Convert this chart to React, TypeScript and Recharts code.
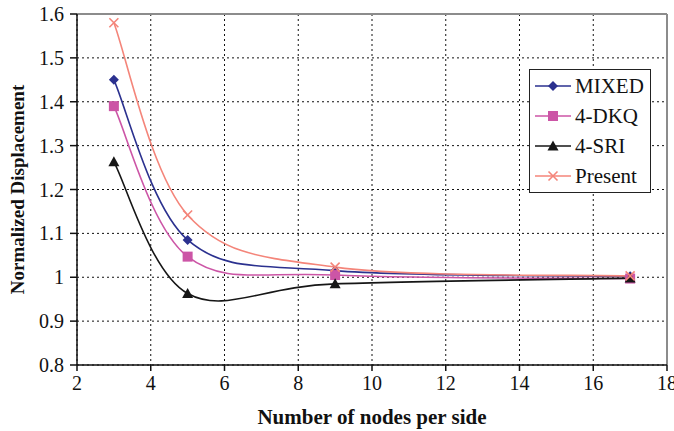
import {
  LineChart,
  Line,
  XAxis,
  YAxis,
  CartesianGrid,
  ReferenceLine,
} from 'recharts'

const nodes = [3, 5, 9, 17]
const mixed = [1.45, 1.085, 1.015, 1.002]
const dkq = [1.39, 1.047, 1.005, 0.997]
const sri = [1.263, 0.963, 0.985, 0.998]
const present = [1.58, 1.142, 1.023, 1.003]

const xTicks = [2, 4, 6, 8, 10, 12, 14, 16, 18]
const yTicks = [0.8, 0.9, 1.0, 1.1, 1.2, 1.3, 1.4, 1.5, 1.6]

const FONT = '"Liberation Serif", "Times New Roman", serif'

const series = [
  { key: 'mixed', name: 'MIXED', color: '#2b318f', marker: 'diamond' },
  { key: 'dkq', name: '4-DKQ', color: '#cc55a6', marker: 'square' },
  { key: 'sri', name: '4-SRI', color: '#161616', marker: 'triangle' },
  { key: 'present', name: 'Present', color: '#f4857a', marker: 'cross' },
]

const data = nodes.map((n, i) => ({
  n,
  mixed: mixed[i],
  dkq: dkq[i],
  sri: sri[i],
  present: present[i],
}))

// Excel style smoothing (Catmull-Rom through the points)
const excelSmooth = (context: any) => {
  let pts: number[][] = []
  return {
    areaStart() {},
    areaEnd() {},
    lineStart() {
      pts = []
    },
    point(x: number, y: number) {
      pts.push([+x, +y])
    },
    lineEnd() {
      if (!pts.length) return
      context.moveTo(pts[0][0], pts[0][1])
      for (let i = 0; i < pts.length - 1; i++) {
        const p0 = pts[i - 1] || pts[i]
        const p1 = pts[i]
        const p2 = pts[i + 1]
        const p3 = pts[i + 2] || pts[i + 1]
        context.bezierCurveTo(
          p1[0] + (p2[0] - p0[0]) / 6,
          p1[1] + (p2[1] - p0[1]) / 6,
          p2[0] - (p3[0] - p1[0]) / 6,
          p2[1] - (p3[1] - p1[1]) / 6,
          p2[0],
          p2[1]
        )
      }
    },
  }
}

function Marker({ cx, cy, color, marker }: any) {
  if (cx == null || cy == null) return null
  if (marker === 'diamond') {
    const r = 5
    return <polygon points={`${cx},${cy - r} ${cx + r},${cy} ${cx},${cy + r} ${cx - r},${cy}`} fill={color} />
  }
  if (marker === 'square') {
    const r = 5
    return <rect x={cx - r} y={cy - r} width={r * 2} height={r * 2} fill={color} />
  }
  if (marker === 'triangle') {
    const r = 5.5
    return <polygon points={`${cx},${cy - r} ${cx + r},${cy + r * 0.8} ${cx - r},${cy + r * 0.8}`} fill={color} />
  }
  const r = 4.5
  return (
    <g stroke={color} strokeWidth={1.6}>
      <line x1={cx - r} y1={cy - r} x2={cx + r} y2={cy + r} />
      <line x1={cx - r} y1={cy + r} x2={cx + r} y2={cy - r} />
    </g>
  )
}

function LegendBox() {
  return (
    <div
      style={{
        position: 'absolute',
        left: 529,
        top: 69,
        border: '1.5px solid #222',
        background: '#fff',
        padding: '1px 4px 0 5px',
        fontFamily: FONT,
        fontSize: 21,
        color: '#111',
        width: 122,
        height: 124,
        boxSizing: 'border-box',
        whiteSpace: 'nowrap',
      }}
    >
      {series.map((s) => (
        <div key={s.key} style={{ display: 'flex', alignItems: 'center', height: 30 }}>
          <svg width={36} height={14} style={{ marginRight: 4 }}>
            <line x1={0} y1={7} x2={36} y2={7} stroke={s.color} strokeWidth={1.6} />
            <Marker cx={18} cy={7} color={s.color} marker={s.marker} />
          </svg>
          <span>{s.name}</span>
        </div>
      ))}
    </div>
  )
}

export default function App() {
  return (
    <div style={{ position: 'absolute', left: 0, top: 0, width: 674, height: 431, background: '#fff' }}>
      <LineChart
        width={674}
        height={431}
        data={data}
        margin={{ top: 14, right: 7, left: 0, bottom: 0 }}
      >
        <CartesianGrid stroke="#111" strokeDasharray="2 3" strokeWidth={1} />
        <XAxis
          dataKey="n"
          type="number"
          domain={[2, 18]}
          ticks={xTicks}
          interval={0}
          height={66}
          stroke="#111"
          strokeWidth={1.5}
          tickSize={6}
          tickMargin={5}
          tick={{ fill: '#111', fontSize: 20, fontFamily: FONT }}
          label={{
            value: 'Number of nodes per side',
            position: 'insideBottom',
            offset: 7,
            style: { fill: '#111', fontSize: 21, fontWeight: 'bold', fontFamily: FONT },
          }}
        />
        <YAxis
          type="number"
          domain={[0.8, 1.6]}
          ticks={yTicks}
          interval={0}
          width={77}
          stroke="#111"
          strokeWidth={1.5}
          tickSize={7}
          tickMargin={6}
          tickFormatter={(v: number) => String(Number(v.toFixed(1)))}
          tick={{ fill: '#111', fontSize: 20, fontFamily: FONT }}
          label={{
            value: 'Normalized Displacement',
            angle: -90,
            position: 'insideLeft',
            offset: 17,
            style: { fill: '#111', fontSize: 19, fontWeight: 'bold', fontFamily: FONT, textAnchor: 'middle' },
          }}
        />
        <ReferenceLine y={1.6} stroke="#8c8c8c" strokeWidth={2} />
        <ReferenceLine x={18} stroke="#8c8c8c" strokeWidth={2} />
        {series.map((s) => (
          <Line
            key={s.key}
            dataKey={s.key}
            name={s.name}
            type={excelSmooth as any}
            stroke={s.color}
            strokeWidth={1.6}
            dot={(p: any) => <Marker key={`${s.key}-${p.index}`} cx={p.cx} cy={p.cy} color={s.color} marker={s.marker} />}
            activeDot={false}
            isAnimationActive={false}
          />
        ))}
      </LineChart>
      <LegendBox />
    </div>
  )
}
